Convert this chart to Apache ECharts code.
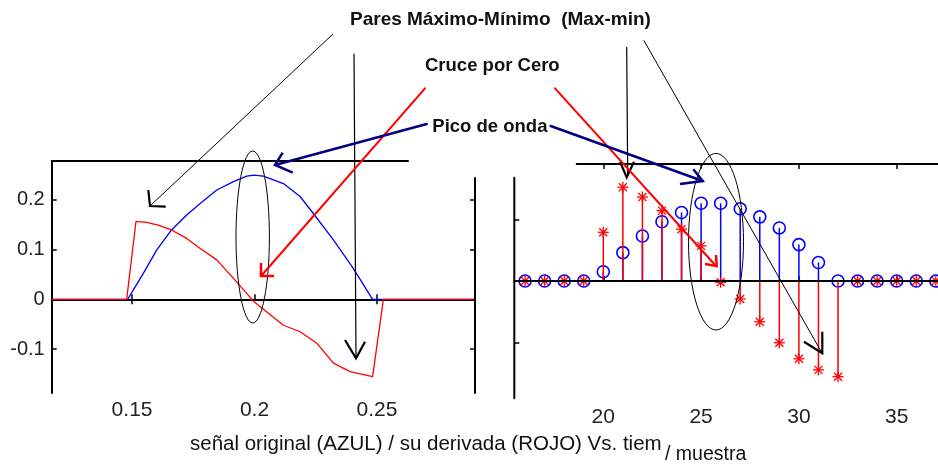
<!DOCTYPE html>
<html>
<head>
<meta charset="utf-8">
<script src="https://cdn.jsdelivr.net/npm/echarts@6/dist/echarts.min.js"></script>
<style>html,body{margin:0;padding:0;background:#fff;}#c{width:938px;height:467px;}</style>
</head>
<body>
<div id="c"></div>
<script>
// ---- Left panel: continuous signal (blue) and its derivative (red) vs time
const blueT = [0.1172, 0.1482, 0.1546, 0.1601, 0.1661, 0.1723, 0.1778, 0.1846, 0.1914, 0.1968, 0.1998, 0.2036, 0.2118, 0.2186, 0.2240, 0.2322, 0.2403, 0.2482, 0.2900];
const blueV = [0, 0, 0.052, 0.099, 0.139, 0.169, 0.192, 0.219, 0.236, 0.247, 0.249, 0.247, 0.232, 0.206, 0.172, 0.119, 0.062, 0, 0];
const redT = [0.1172, 0.1478, 0.1516, 0.1560, 0.1610, 0.1661, 0.1723, 0.1778, 0.1846, 0.1914, 0.1968, 0.1998, 0.2049, 0.2118, 0.2186, 0.2254, 0.2322, 0.2390, 0.2482, 0.2526, 0.2900];
const redV = [0, 0, 0.156, 0.154, 0.148, 0.139, 0.122, 0.102, 0.079, 0.042, 0.012, -0.005, -0.025, -0.052, -0.065, -0.088, -0.128, -0.145, -0.155, 0, 0];
const leftXTicks = [0.15, 0.2, 0.25];
const leftYTicks = [-0.1, 0, 0.1, 0.2];

// ---- Right panel: sampled signal (blue circles) and derivative (red stars) vs sample
const samples = [16,17,18,19,20,21,22,23,24,25,26,27,28,29,30,31,32,33,34,35,36,37,38];
const blueStem = [0,0,0,0,0.015,0.046,0.073,0.096,0.111,0.126,0.126,0.117,0.104,0.086,0.059,0.030,0,0,0,0,0,0,0];
const redStem  = [0,0,0,0,0.079,0.152,0.136,0.114,0.084,0.057,-0.002,-0.029,-0.066,-0.100,-0.126,-0.144,-0.155,0,0,0,0,0,0];
const rightXTicks = [20, 25, 30, 35, 40];
const rightYTicks = [-0.1, 0, 0.1];

// ---- Texts
const titleText = 'Pares Máximo-Mínimo  (Max-min)';
const zeroText = 'Cruce por Cero';
const peakText = 'Pico de onda';
const xText = 'señal original (AZUL) / su derivada (ROJO) Vs. tiem';
const xText2 = '/ muestra';

const chart = echarts.init(document.getElementById('c'), null, {renderer: 'canvas'});
const FONT = '"Liberation Sans", Arial, sans-serif';
const BLUE = '#0000ff', RED = '#ff0000', NAVY = '#000080';

const pairs = (a, b) => a.map((v, i) => [v, b[i]]);

function stemItem(kind) {
  return function (params, api) {
    const x = api.value(0), v = api.value(1);
    const p0 = api.coord([x, 0]), p1 = api.coord([x, v]);
    const color = kind === 'circle' ? BLUE : RED;
    const children = [{
      type: 'line', shape: {x1: p0[0], y1: p0[1], x2: p1[0], y2: p1[1]},
      style: {stroke: color, lineWidth: 1.5}
    }];
    if (kind === 'circle') {
      children.push({type: 'circle', shape: {cx: p1[0], cy: p1[1], r: 6}, style: {fill: 'none', stroke: BLUE, lineWidth: 1.6}});
    } else {
      const a = 5.5, d = 4;
      children.push({type: 'line', shape: {x1: p1[0], y1: p1[1] - a, x2: p1[0], y2: p1[1] + a}, style: {stroke: RED, lineWidth: 1.3}});
      children.push({type: 'line', shape: {x1: p1[0] - a, y1: p1[1], x2: p1[0] + a, y2: p1[1]}, style: {stroke: RED, lineWidth: 1.3}});
      children.push({type: 'line', shape: {x1: p1[0] - d, y1: p1[1] - d, x2: p1[0] + d, y2: p1[1] + d}, style: {stroke: RED, lineWidth: 1.3}});
      children.push({type: 'line', shape: {x1: p1[0] - d, y1: p1[1] + d, x2: p1[0] + d, y2: p1[1] - d}, style: {stroke: RED, lineWidth: 1.3}});
    }
    return {type: 'group', children: children};
  };
}

const axisLineStyle = {color: '#000', width: 2};
const tickStyle = {color: '#000', width: 1.5};

// grid geometry
const G0 = {left: 51.7, top: 161, width: 423.3, height: 232};
const G1 = {left: 514.3, top: 164, width: 480.2, height: 234.3};

function seg(x1, y1, x2, y2, color, w) {
  return {type: 'line', z: 100, shape: {x1, y1, x2, y2}, style: {stroke: color, lineWidth: w, lineCap: 'round'}};
}
function pl(points, color, w) {
  return {type: 'polyline', z: 100, shape: {points}, style: {stroke: color, lineWidth: w, fill: null, lineJoin: 'miter'}};
}
function txt(x, y, text, font, align) {
  return {type: 'text', z: 100, x, y, style: {text, font, fill: '#111', textAlign: align || 'left', textVerticalAlign: 'middle'}};
}

const option = {
  backgroundColor: '#fff',
  animation: false,
  grid: [
    {left: G0.left, top: G0.top, width: G0.width, height: G0.height, containLabel: false, outerBoundsMode: 'none'},
    {left: G1.left, top: G1.top, width: G1.width, height: G1.height, containLabel: false, outerBoundsMode: 'none'}
  ],
  xAxis: [
    {gridIndex: 0, type: 'value', min: 0.1172, max: 0.29, position: 'bottom',
     axisLine: {show: true, lineStyle: axisLineStyle},
     axisTick: {show: true, inside: true, length: 5, lineStyle: tickStyle, customValues: leftXTicks},
     axisLabel: {show: true, margin: 7, color: '#222', fontSize: 21, fontFamily: FONT, customValues: leftXTicks, formatter: v => String(v)},
     splitLine: {show: false}},
    {gridIndex: 0, type: 'value', min: 0.1172, max: 0.29, position: 'top',
     axisLine: {show: false},
     axisTick: {show: true, inside: true, length: 5, lineStyle: tickStyle, customValues: [0.15, 0.25]},
     axisLabel: {show: false}, splitLine: {show: false}},
    {gridIndex: 1, type: 'value', min: 15.45, max: 40, position: 'bottom',
     axisLine: {show: true, lineStyle: axisLineStyle},
     axisTick: {show: true, inside: true, length: 5, lineStyle: tickStyle, customValues: rightXTicks},
     axisLabel: {show: true, margin: 8, color: '#222', fontSize: 21, fontFamily: FONT, customValues: rightXTicks},
     splitLine: {show: false}},
    {gridIndex: 1, type: 'value', min: 15.45, max: 40, position: 'top',
     axisLine: {show: false},
     axisTick: {show: true, inside: true, length: 5, lineStyle: tickStyle, customValues: rightXTicks},
     axisLabel: {show: false}, splitLine: {show: false}}
  ],
  yAxis: [
    {gridIndex: 0, type: 'value', min: -0.1878, max: 0.2772, position: 'left',
     axisLine: {show: true, lineStyle: axisLineStyle},
     axisTick: {show: true, inside: true, length: 5, lineStyle: tickStyle, customValues: leftYTicks},
     axisLabel: {show: true, margin: 7, color: '#222', fontSize: 20, fontFamily: FONT, customValues: leftYTicks, formatter: v => String(v)},
     splitLine: {show: false}},
    {gridIndex: 0, type: 'value', min: -0.1878, max: 0.2772, position: 'right',
     axisLine: {show: false},
     axisTick: {show: true, inside: true, length: 5, lineStyle: tickStyle, customValues: leftYTicks},
     axisLabel: {show: false}, splitLine: {show: false}},
    {gridIndex: 1, type: 'value', min: -0.19, max: 0.1896, position: 'left',
     axisLine: {show: false},
     axisTick: {show: true, inside: true, length: 5, lineStyle: tickStyle, customValues: rightYTicks},
     axisLabel: {show: false}, splitLine: {show: false}}
  ],
  series: [
    {type: 'line', xAxisIndex: 0, yAxisIndex: 0, data: pairs(blueT, blueV), showSymbol: false,
     lineStyle: {color: BLUE, width: 1.3}, z: 3},
    {type: 'line', xAxisIndex: 0, yAxisIndex: 0, data: pairs(redT, redV), showSymbol: false,
     lineStyle: {color: RED, width: 1.3}, z: 4},
    {type: 'custom', xAxisIndex: 2, yAxisIndex: 2, data: pairs(samples, blueStem),
     encode: {x: 0, y: 1}, renderItem: stemItem('circle'), z: 3,
     markLine: {silent: true, symbol: 'none', label: {show: false},
       lineStyle: {color: '#000', width: 1.8, type: 'solid'}, data: [{yAxis: 0}]}},
    {type: 'custom', xAxisIndex: 2, yAxisIndex: 2, data: pairs(samples, redStem),
     encode: {x: 0, y: 1}, renderItem: stemItem('star'), z: 4}
  ],
  graphic: [
    // partial frame lines
    seg(G0.left, 161, 408, 161, '#000', 2),
    seg(G0.left + G0.width, 178, G0.left + G0.width, G0.top + G0.height, '#000', 2),
    seg(G1.left, 177.7, G1.left, G1.top + G1.height, '#000', 2),
    seg(576.7, 164, 938, 164, '#000', 2),
    // ellipses
    {type: 'ellipse', z: 100, shape: {cx: 252.7, cy: 237, rx: 16.7, ry: 86}, style: {fill: null, stroke: '#000', lineWidth: 1}},
    {type: 'ellipse', z: 100, shape: {cx: 716, cy: 241.7, rx: 27.5, ry: 88.3}, style: {fill: null, stroke: '#000', lineWidth: 1}},
    // Max-min arrows (black)
    seg(332.7, 34.3, 150, 206, '#000', 1),
    pl([[148.3, 190], [150, 206], [165.7, 206.7]], '#000', 2.2),
    seg(354, 54, 356, 358, '#000', 1.2),
    pl([[345, 340], [356, 358.3], [365, 341.7]], '#000', 2.2),
    seg(644, 40.7, 822, 353, '#000', 1),
    pl([[804, 341.7], [822.3, 353.3], [822.3, 331.7]], '#000', 2.2),
    seg(626.7, 47.3, 627.7, 176, '#000', 1.2),
    pl([[620, 161.7], [626.7, 177.3], [634, 161.7]], '#000', 2.2),
    // zero-crossing arrows (red)
    seg(425, 88.3, 262, 275, RED, 2),
    pl([[261, 263], [261, 276], [274, 276]], RED, 2.5),
    seg(555, 88.3, 716, 266, RED, 2),
    pl([[705, 264], [716.7, 266], [716, 255]], RED, 2.5),
    // peak arrows (navy)
    seg(426.7, 124, 275, 165, NAVY, 2.5),
    pl([[282.7, 152.7], [275, 165], [292.7, 172.7]], NAVY, 2.5),
    seg(550.7, 126, 702.7, 181, NAVY, 2.5),
    pl([[693.3, 169.3], [702.7, 181], [680, 184]], NAVY, 2.5),
    // texts
    txt(350, 19.5, titleText, 'bold 19px ' + FONT),
    txt(425, 66, zeroText, 'bold 18.5px ' + FONT),
    txt(432.3, 127, peakText, 'bold 18.5px ' + FONT),
    txt(190, 444.5, xText, '20.5px ' + FONT),
    txt(665, 455, xText2, '19.5px ' + FONT)
  ]
};
chart.setOption(option);
</script>
</body>
</html>
